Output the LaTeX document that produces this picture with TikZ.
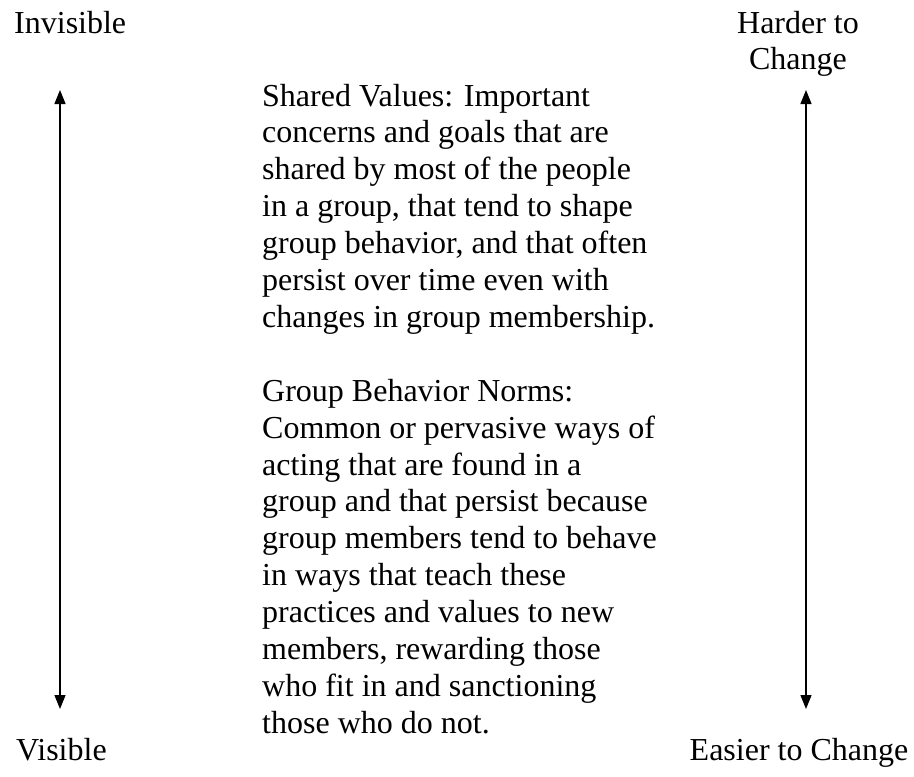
\documentclass[tikz,border=0pt]{standalone}
\usepackage{fontspec}
\setmainfont{Liberation Serif}
\usetikzlibrary{arrows.meta}
\tikzset{
  lbl/.style={inner sep=0pt, font=\fontsize{32}{36.9}\selectfont},
  para/.style={inner sep=0pt, align=left, anchor=base west, font=\fontsize{32}{36.9}\selectfont},
  dbl/.style={line width=1.4pt, {Triangle[length=14pt,width=11pt]}-{Triangle[length=14pt,width=11pt]}}
}
\begin{document}
\begin{tikzpicture}[x=1pt,y=-1pt]
\useasboundingbox (0,0) rectangle (914,777);
\node[lbl, anchor=base west] (inv) at (14,33) {Invisible};
\node[lbl, anchor=base west] (vis) at (16,760) {Visible};
% multi-line node: base anchor is the baseline of its last line
\node[lbl, anchor=base, align=center] (hard) at (798,69.9) {Harder to\\Change};
\node[lbl, anchor=base] (easy) at (799,760) {Easier to Change};
\coordinate (lt) at (60,90);
\coordinate (lb) at (60,709);
\coordinate (rt) at (806,90);
\coordinate (rb) at (806,709);
\draw[dbl] (lt) -- (lb);
\draw[dbl] (rt) -- (rb);
\node[para] (sv) at (262,327.4) {Shared Values: Important\\
concerns and goals that are\\
shared by most of the people\\
in a group, that tend to shape\\
group behavior, and that often\\
persist over time even with\\
changes in group membership.};
\node[para] (gb) at (262,733.3) {Group Behavior Norms:\\
Common or pervasive ways of\\
acting that are found in a\\
group and that persist because\\
group members tend to behave\\
in ways that teach these\\
practices and values to new\\
members, rewarding those\\
who fit in and sanctioning\\
those who do not.};
\end{tikzpicture}
\end{document}
